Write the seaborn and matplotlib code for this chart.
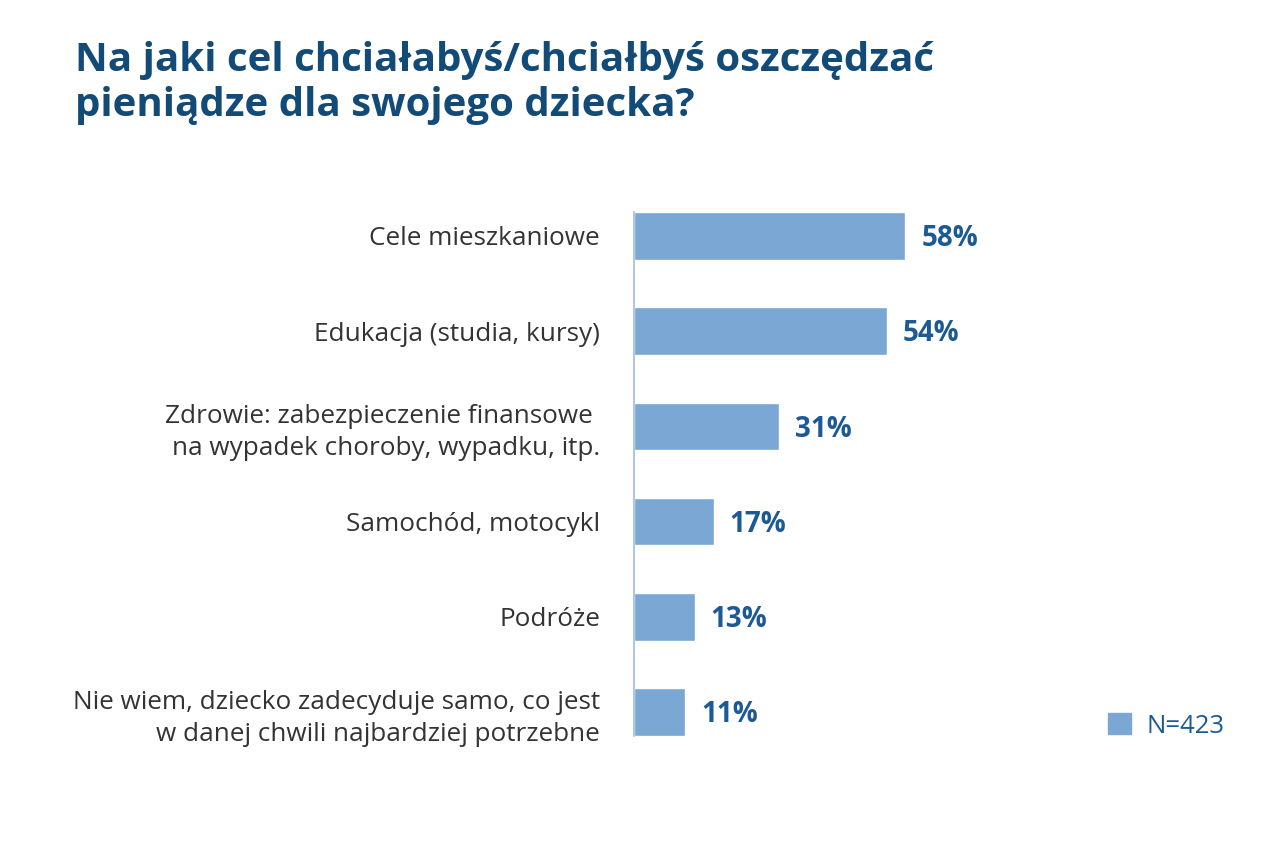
import matplotlib
matplotlib.use("Agg")
import matplotlib.pyplot as plt
import seaborn as sns
import pandas as pd
from matplotlib.patches import Patch

categories = [
    "Cele mieszkaniowe",
    "Edukacja (studia, kursy)",
    "Zdrowie: zabezpieczenie finansowe \nna wypadek choroby, wypadku, itp.",
    "Samochód, motocykl",
    "Podróże",
    "Nie wiem, dziecko zadecyduje samo, co jest\nw danej chwili najbardziej potrzebne",
]
values = [58, 54, 31, 17, 13, 11]
title = "Na jaki cel chciałabyś/chciałbyś oszczędzać\npieniądze dla swojego dziecka?"
legend_label = "N=423"

bar_color = "#7ba7d4"
label_color = "#1c5a96"
title_color = "#124a78"
text_color = "#333333"

sns.set_theme(style="white")
plt.rcParams["font.family"] = ["Open Sans", "DejaVu Sans"]

df = pd.DataFrame({"cel": categories, "procent": values})

fig = plt.figure(figsize=(12.74, 8.49), dpi=100)
ax = fig.add_axes([634 / 1274, 1 - 736 / 849, 468 / 1274, 524 / 849])

sns.barplot(data=df, y="cel", x="procent", orient="h", color=bar_color,
            width=0.5, saturation=1, ax=ax)

ax.set_xlim(0, 100)
ax.set_ylim(5.25, -0.25)
ax.set_xlabel("")
ax.set_ylabel("")
ax.set_xticks([])
sns.despine(ax=ax, top=True, right=True, bottom=True, left=False)
ax.spines["left"].set_color("#9dbde0")
ax.spines["left"].set_linewidth(1.2)
ax.tick_params(axis="y", length=0, pad=24.5)
for t in ax.get_yticklabels():
    t.set_fontsize(18.8)
    t.set_color(text_color)
    t.set_linespacing(1.35)
    t.set_horizontalalignment("right")
    t.set_multialignment("right")

for i, v in enumerate(values):
    ax.annotate(f"{v}%", (v, i), xytext=(11.5, -2), textcoords="offset points",
                va="center", ha="left", fontsize=20, fontweight="bold",
                color=label_color)

fig.text(75 / 1274, 1 - 41 / 849, title, fontsize=29, fontweight="bold",
         color=title_color, va="top", ha="left", linespacing=1.2)

fig.legend(handles=[Patch(facecolor=bar_color, edgecolor=bar_color)],
           labels=[legend_label], loc="center left",
           bbox_to_anchor=(1108 / 1274, 1 - 726 / 849), frameon=False,
           borderpad=0, borderaxespad=0,
           handlelength=0.88, handleheight=0.88, handletextpad=0.62,
           prop={"size": 18.5}, labelcolor=label_color)

fig.savefig("out.png", dpi=100, facecolor="white")
